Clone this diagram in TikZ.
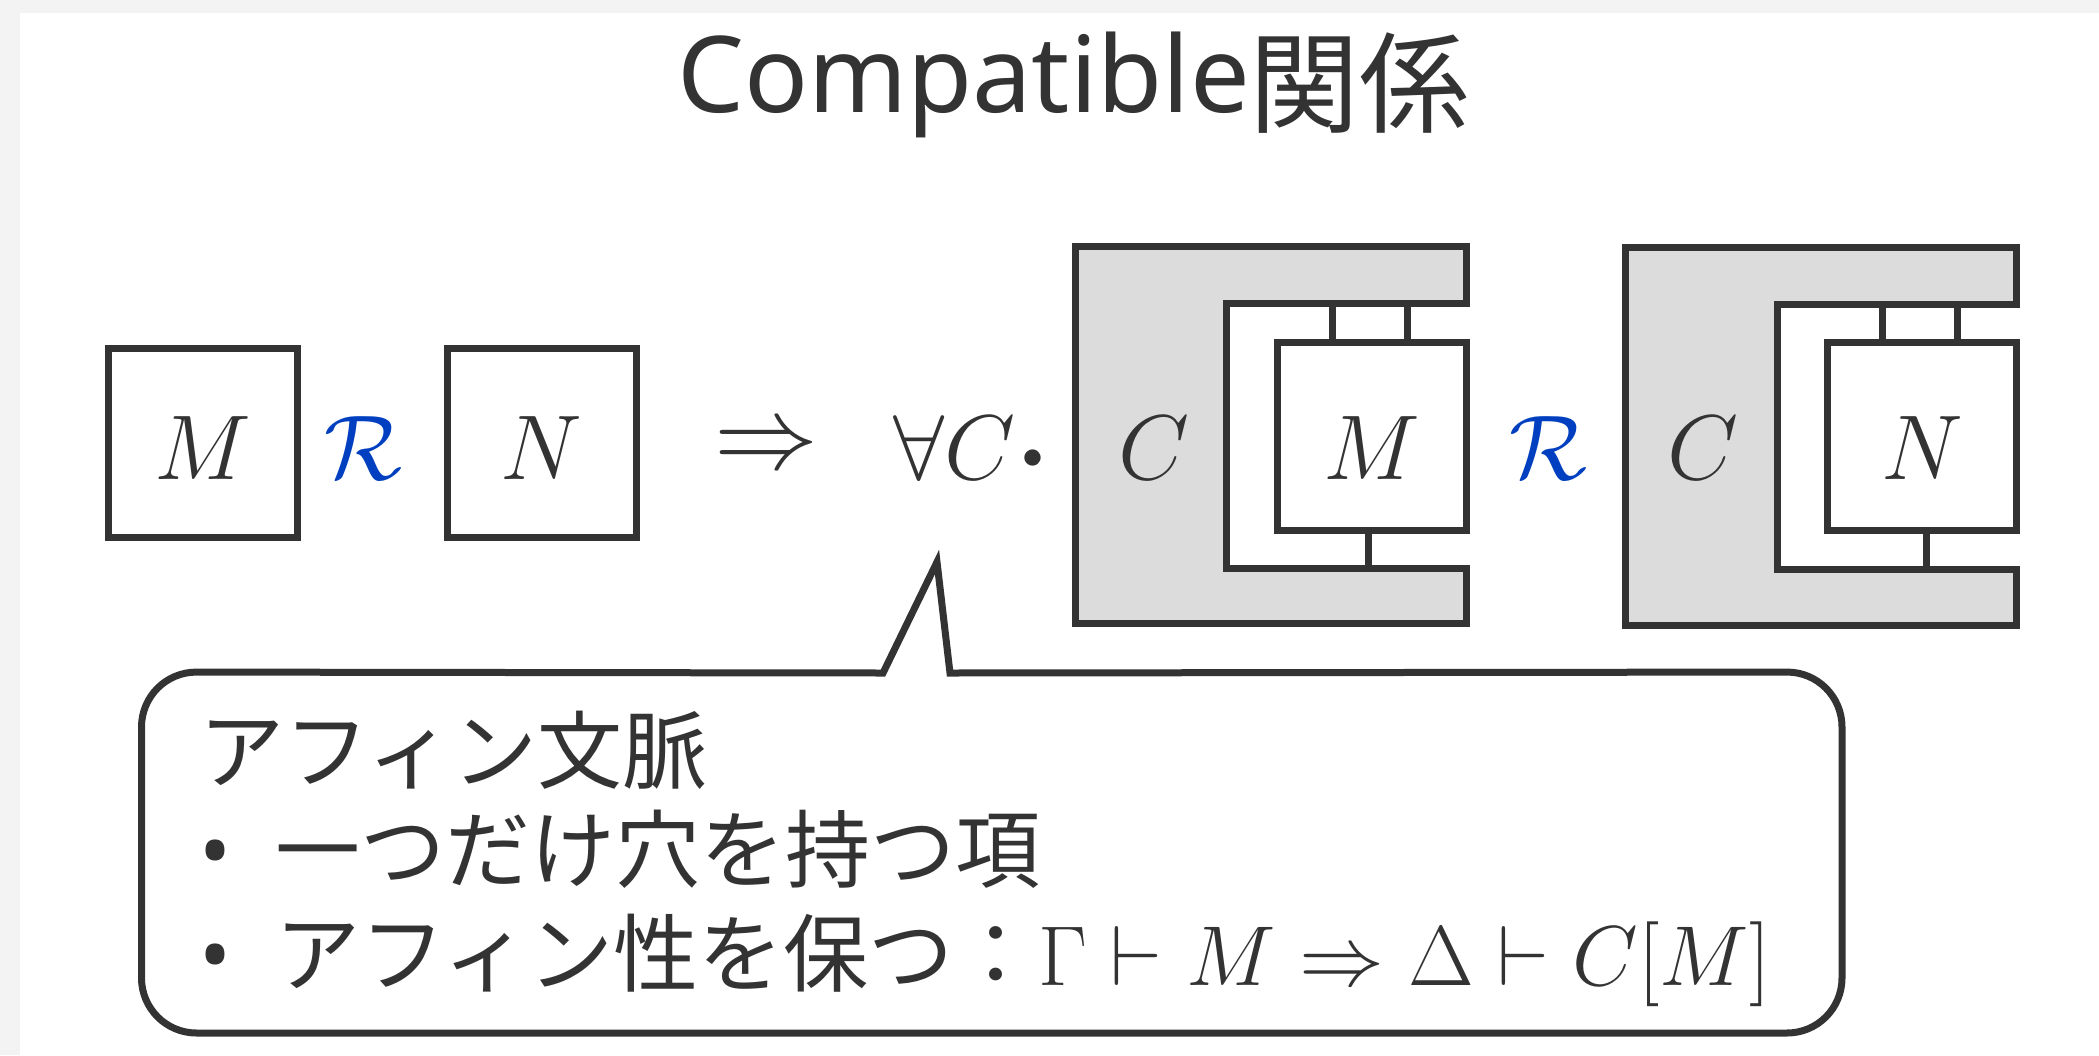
\RequirePackage{fix-cm}
\documentclass[tikz,border=0pt]{standalone}
\usepackage{fontspec}
\newfontfamily\cjk{Noto Sans CJK JP}
\newfontfamily\lat{Noto Sans}
\usetikzlibrary{calc}
\definecolor{ink}{HTML}{333333}
\definecolor{ctxgray}{HTML}{DCDCDC}
\definecolor{relblue}{HTML}{0040C0}
\definecolor{frame}{HTML}{F3F3F3}
\newcommand\mathfs{\fontsize{46pt}{52pt}\selectfont}
\newcommand\bodyfs{\fontsize{42.5pt}{50pt}\selectfont}
\newcommand\bul{\makebox[38pt][l]{\lat •}}
\newcommand\bigdot{\raisebox{5.5pt}{\fontsize{21pt}{22pt}\selectfont$\bullet$}}
\tikzset{
  x=0.5pt, y=-0.5pt,
  every node/.style={text=ink, inner sep=0pt, outer sep=0pt},
  mbox/.style={draw=ink, line width=3.5pt, fill=white, minimum width=94.5pt,
    minimum height=94.5pt, font=\mathfs, text height=36.5pt, text depth=0pt},
  ibox/.style={draw=ink, line width=3.5pt, fill=white, minimum width=94.5pt,
    minimum height=94pt, font=\mathfs, text height=43pt, text depth=0pt},
  ctx/.style={draw=ink, fill=ctxgray, line width=3.5pt, miter limit=10},
  wire/.style={draw=ink, line width=3.5pt},
  rel/.style={font=\mathfs, text=relblue, anchor=base},
  lbl/.style={font=\mathfs, anchor=base},
  callout/.style={draw=ink, line width=3.5pt, fill=white},
  txt/.style={font=\cjk\bodyfs, anchor=base west},
}
\begin{document}
\begin{tikzpicture}
\useasboundingbox (0,0) rectangle (2099,1055);
\fill[frame] (0,0) rectangle (2099,1055);
\fill[white] (20,13) rectangle (2099,1055);

% title
\node[anchor=base west] (title) at (677,112)
  {{\lat\fontsize{53pt}{60pt}\selectfont Compatible}\raisebox{-6pt}{\cjk\fontsize{55pt}{60pt}\selectfont 関係}};

% left side: M R N
\node[mbox] (m) at (203,442.5) {$M$};
\node[rel] (r1) at (363,479) {$\mathcal{R}$};
\node[mbox] (n) at (541.5,442.5) {$N$};
\node[font=\fontsize{52pt}{56pt}\selectfont] (imp) at (766,449) {$\Rightarrow$};
\node[lbl, anchor=base west] (fa) at (893,479) {$\forall C$\hspace{3.5pt}\bigdot};

% context 1 with M
\draw[ctx] (1075,246) -- (1466,246) -- (1466,303) -- (1226,303) -- (1226,568)
  -- (1466,568) -- (1466,623) -- (1075,623) -- cycle;
\coordinate (c1top) at (1226,303);
\coordinate (c1bot) at (1226,568);
\node[lbl] (c1) at (1154,479) {$C$};
\node[ibox] (b1) at (1371.5,436) {};
\coordinate (w1a) at ($(b1.north west)+(55,0)$);
\coordinate (w1b) at ($(b1.north west)+(130,0)$);
\coordinate (w1c) at ($(b1.south west)+(91,0)$);
\draw[wire] (w1a) -- (w1a |- c1top);
\draw[wire] (w1b) -- (w1b |- c1top);
\draw[wire] (w1c) -- (w1c |- c1bot);
\node[ibox] (b1m) at (1371.5,436) {$M$};

\node[rel] (r2) at (1548,479) {$\mathcal{R}$};

% context 2 with N
\draw[ctx] (1625.5,247) -- (2016.5,247) -- (2016.5,304.5) -- (1777,304.5) -- (1777,569.7)
  -- (2016.5,569.7) -- (2016.5,625.3) -- (1625.5,625.3) -- cycle;
\coordinate (c2top) at (1777,304.5);
\coordinate (c2bot) at (1777,569.7);
\node[lbl] (c2) at (1703,479) {$C$};
\coordinate (b2pos) at (1922,436);
\coordinate (w2a) at ($(b2pos)+(-94.5+54.5,-94)$);
\coordinate (w2b) at ($(b2pos)+(-94.5+130,-94)$);
\coordinate (w2c) at ($(b2pos)+(-94.5+99,94)$);
\draw[wire] (w2a) -- (w2a |- c2top);
\draw[wire] (w2b) -- (w2b |- c2top);
\draw[wire] (w2c) -- (w2c |- c2bot);
\node[ibox] (b2) at (b2pos) {$N$};

% callout
\draw[callout] (950,673) [rounded corners=27.5pt] -- (1842,672) -- (1842,1033)
  -- (141.5,1033) -- (141.5,672) [sharp corners] -- (883,673) -- (937,562) -- cycle;
\node[txt] (l1) at (199,782) {アフィン文脈};
\node[txt] (l2) at (199,881) {\bul 一つだけ穴を持つ項};
\node[txt] (l3) at (199,985) {\bul アフィン性を保つ：$\Gamma \vdash M \Rightarrow \Delta \vdash C[M]$};
\end{tikzpicture}
\end{document}
